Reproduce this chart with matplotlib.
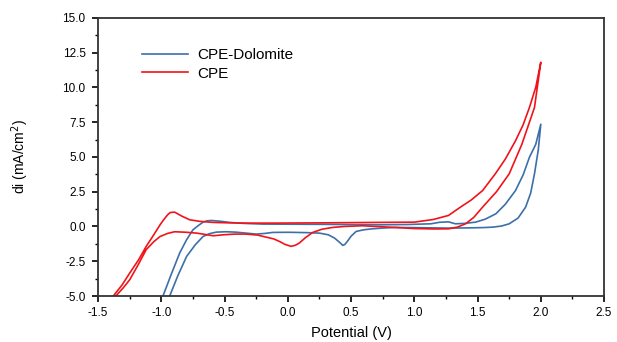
import matplotlib.pyplot as plt
from matplotlib.ticker import MultipleLocator

plt.rcParams['font.family'] = ['Liberation Sans', 'DejaVu Sans']

# CPE-Dolomite: forward (lower) branch then reverse (upper) branch
dolo_v = [-0.934, -0.87, -0.80, -0.73, -0.67, -0.62, -0.566, -0.49, -0.41, -0.33, -0.25, -0.18,
          -0.12, 0.0, 0.07, 0.17, 0.25, 0.32, 0.37, 0.41, 0.434, 0.45, 0.47, 0.50, 0.54, 0.60, 0.67,
          0.76, 0.855, 1.05, 1.27, 1.45, 1.55, 1.62, 1.69, 1.75, 1.82, 1.88, 1.92, 1.95, 1.98, 2.0,
          1.96, 1.91, 1.86, 1.80, 1.72, 1.645, 1.56, 1.485, 1.40, 1.325, 1.27, 1.20, 1.13, 0.95,
          0.74, 0.50, 0.30, 0.05, -0.2, -0.35, -0.46, -0.54, -0.605, -0.64, -0.67, -0.71, -0.75,
          -0.80, -0.855, -0.92, -0.987]
dolo_i = [-5.0, -3.55, -2.15, -1.3, -0.72, -0.52, -0.41, -0.38, -0.41, -0.48, -0.55, -0.5,
          -0.43, -0.42, -0.43, -0.45, -0.48, -0.6, -0.84, -1.15, -1.36, -1.3, -1.08, -0.7, -0.36,
          -0.24, -0.17, -0.11, -0.07, -0.09, -0.12, -0.1, -0.08, -0.05, 0.03, 0.19, 0.6, 1.39,
          2.4, 3.78, 5.5, 7.35,
          5.9, 4.97, 3.7, 2.58, 1.6, 0.91, 0.52, 0.31, 0.22, 0.19, 0.33, 0.3, 0.19, 0.14,
          0.12, 0.13, 0.15, 0.16, 0.17, 0.22, 0.29, 0.38, 0.43, 0.4, 0.31, 0.05, -0.24,
          -0.95, -1.91, -3.4, -5.0]

# CPE: forward (lower) branch then reverse (upper) branch
cpe_v = [-1.36, -1.30, -1.25, -1.18, -1.12, -1.06, -1.01, -0.95, -0.895, -0.80, -0.72, -0.65,
         -0.59, -0.51, -0.42, -0.33, -0.24, -0.17, -0.11, -0.066, -0.02, 0.026, 0.06, 0.09, 0.14,
         0.197, 0.27, 0.355, 0.45, 0.59, 0.8, 1.0, 1.15, 1.27, 1.34, 1.405, 1.47, 1.54, 1.65, 1.75,
         1.85, 1.95, 2.0,
         1.96, 1.91, 1.86, 1.80, 1.72, 1.64, 1.54, 1.45, 1.365, 1.27, 1.15, 1.0, 0.7, 0.3, -0.1,
         -0.33, -0.47, -0.59, -0.70, -0.776, -0.84, -0.895, -0.93, -0.95, -0.98, -1.01, -1.06,
         -1.12, -1.18, -1.25, -1.31, -1.38]
cpe_i = [-5.0, -4.4, -3.83, -2.7, -1.67, -1.1, -0.72, -0.5, -0.38, -0.42, -0.48, -0.58,
         -0.67, -0.6, -0.55, -0.55, -0.62, -0.77, -0.9, -1.08, -1.3, -1.43, -1.35, -1.2, -0.8,
         -0.43, -0.2, -0.07, 0.0, 0.05, -0.05, -0.15, -0.18, -0.17, -0.05, 0.19, 0.65, 1.39, 2.5,
         3.78, 5.9, 8.55, 11.8,
         10.0, 8.55, 7.3, 6.16, 4.85, 3.78, 2.58, 1.9, 1.39, 0.79, 0.5, 0.31, 0.29, 0.26, 0.24,
         0.24, 0.26, 0.29, 0.37, 0.48, 0.75, 1.03, 1.0, 0.84, 0.5, 0.12, -0.6,
         -1.44, -2.4, -3.35, -4.2, -5.0]

fig = plt.figure(figsize=(6.17, 3.42), dpi=100)
ax = fig.add_axes([0.159, 0.1345, 0.82, 0.8135])

ax.plot(dolo_v, dolo_i, color='#3d6fa8', lw=1.2, label='CPE-Dolomite')
ax.plot(cpe_v, cpe_i, color='#f0141a', lw=1.2, label='CPE')

ax.set_xlim(-1.5, 2.5)
ax.set_ylim(-5, 15)
ax.xaxis.set_major_locator(MultipleLocator(0.5))
ax.xaxis.set_minor_locator(MultipleLocator(0.25))
ax.yaxis.set_major_locator(MultipleLocator(2.5))
ax.yaxis.set_minor_locator(MultipleLocator(1.25))
ax.xaxis.set_major_formatter(plt.FormatStrFormatter('%.1f'))
ax.yaxis.set_major_formatter(plt.FormatStrFormatter('%.1f'))
ax.tick_params(which='major', direction='out', length=4, width=1.2, labelsize=8.5)
ax.tick_params(axis='x', which='major', pad=4)
ax.tick_params(axis='y', which='major', pad=5)
ax.tick_params(which='minor', direction='out', length=2.5, width=1)
for s in ax.spines.values():
    s.set_linewidth(1.3)
    s.set_color('#333333')

ax.set_xlabel('Potential (V)', fontsize=10.5)
ax.set_ylabel('di (mA/cm$^2$)', fontsize=10)
ax.xaxis.set_label_coords(0.5, -0.108)
ax.yaxis.set_label_coords(-0.132, 0.5)

ax.legend(loc='upper left', bbox_to_anchor=(0.06, 0.94), frameon=False, fontsize=11,
          handlelength=3.0, handletextpad=0.6, labelspacing=0.3)

fig.savefig('out.png', dpi=100)
